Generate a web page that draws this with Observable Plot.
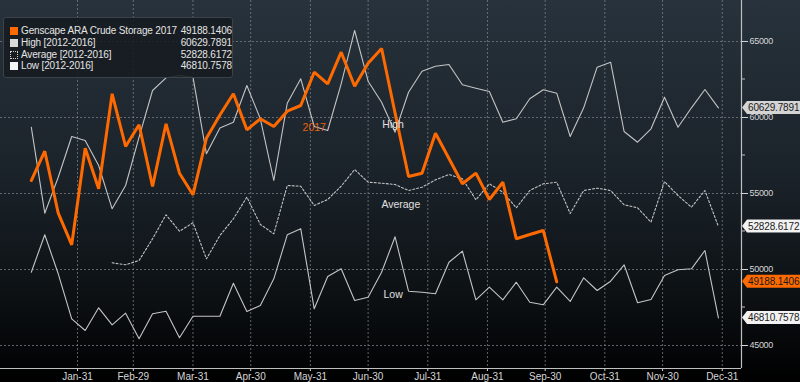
<!DOCTYPE html>
<html>
<head>
<meta charset="utf-8">
<script src="https://cdn.jsdelivr.net/npm/d3@7"></script>
<script src="https://cdn.jsdelivr.net/npm/@observablehq/plot@0.6"></script>
<style>
  html, body { margin: 0; padding: 0; background: #000; }
  #wrap {
    position: relative; width: 800px; height: 382px; overflow: hidden;
    background: linear-gradient(to bottom, #27323c 0%, #1b232a 45%, #0b0f12 80%, #000 100%);
    font-family: "Liberation Sans", Arial, sans-serif;
  }
  #wrap svg { position: absolute; left: 0; top: 0; background: transparent; }
  #legend {
    position: absolute; left: 3px; top: 17px; width: 230px; height: 61px;
    background: rgba(22, 27, 32, 0.88); border: 1px solid #3b4248; border-radius: 3px;
    color: #e4e4e4; font-size: 10px; letter-spacing: -0.15px; box-sizing: border-box;
  }
  #legend .row { position: absolute; left: 6px; right: 0; height: 12px; line-height: 12px; }
  #legend .sw { position: absolute; left: 0; top: 2px; width: 8px; height: 8px; box-sizing: border-box; }
  #legend .name { position: absolute; left: 11px; white-space: nowrap; }
  #legend .val { position: absolute; right: 0; white-space: nowrap; text-align: right; }
  .yax text { font-size: 9px; letter-spacing: -0.3px; }
</style>
</head>
<body>
<div id="wrap"><div id="chart"></div><div id="legend"></div></div>
<script>
// ---- data ----
const startWeek = "2016-01-07";
const seriesNames = ["Genscape ARA Crude Storage 2017", "High [2012-2016]", "Average [2012-2016]", "Low [2012-2016]"];
const lastValues = [49188.1406, 60629.7891, 52828.6172, 46810.7578];

const storage2017 = [55855, 57783, 53704, 51625, 57980, 55309, 61559, 58092, 59520, 55461,
  59586, 56336, 54914, 58638, 60164, 61559, 59191, 59914, 59408, 60414,
  60789, 62980, 62217, 64296, 62059, 63572, 64540, 60300, 56118, 56336,
  58967, 57303, 55638, 56336, 54605, 55743, 52020, 52303, 52566, 49188.1406];

const high = [59362, 53704, 56072, 58750, 58487, 56842, 53993, 55526, 58704, 61776,
  62612, 62763, 62651, 57612, 59309, 59691, 62105, 59914, 55855, 60941,
  62546, 59408, 59145, 62217, 65724, 62388, 61007, 59033, 61664, 63046,
  63375, 63487, 62151, 61928, 61711, 59691, 59914, 61230, 61822, 61599,
  58750, 60638, 63309, 63638, 59079, 58375, 59257, 61336, 59362, 60638,
  61842, 60629.7891];

const average = [null, null, null, null, null, null, 50441, 50309, 50592, 52020,
  53599, 52520, 53072, 50704, 52237, 53336, 54757, 52961, 52349, 55526,
  55480, 54211, 54605, 55480, 56579, 55743, 55678, 55592, 55197, 55414,
  55901, 56250, 55967, 54586, 55638, 55086, 54059, 55197, 55638, 55743,
  53684, 55197, 55349, 55197, 54257, 54059, 53112, 55789, 54868, 54099,
  55197, 52828.6172];

const low = [49822, 52283, 49717, 46757, 45987, 47480, 46362, 47125, 45441, 47086,
  47257, 45507, 46928, 46928, 46928, 49099, 47237, 47632, 49388, 52283,
  52678, 47414, 49539, 50046, 47961, 48178, 49822, 52151, 48572, 48507,
  48401, 50480, 51204, 48007, 48836, 48007, 49164, 47849, 47678, 48836,
  47895, 49454, 48618, 49230, 50309, 47809, 48026, 49605, 49980, 50046,
  51250, 46810.7578];

const xTickDates = ["2016-01-31", "2016-02-29", "2016-03-31", "2016-04-30", "2016-05-31", "2016-06-30",
  "2016-07-31", "2016-08-31", "2016-09-30", "2016-10-31", "2016-11-30", "2016-12-31"];
const xTickLabels = ["Jan-31", "Feb-29", "Mar-31", "Apr-30", "May-31", "Jun-30",
  "Jul-31", "Aug-31", "Sep-30", "Oct-31", "Nov-30", "Dec-31"];
const yTicks = [45000, 50000, 55000, 60000, 65000];
const yMinorTicks = [47500, 52500, 57500, 62500];

const labelTexts = ["2017", "High", "Average", "Low"];
const labelDates = ["2016-06-02", "2016-07-13", "2016-07-17", "2016-07-13"];
const labelValues = [59342, 59540, 54276, 48355];

// ---- build ----
const parse = d3.utcParse("%Y-%m-%d");
const t0 = parse(startWeek);
const dateAt = i => d3.utcDay.offset(t0, 7 * i);
const toRows = arr => arr.map((v, i) => ({date: dateAt(i), v})).filter(d => d.v != null);

const orangeC = "#ff6a00";
const grayC = "#c4c4c4";
const gridC = "#7d8288";
const textC = "#d6d6d6";
const xDomain = [new Date(Date.UTC(2015, 11, 22)), new Date(Date.UTC(2017, 0, 10))];
const yDomain = [43487, 67697];
const xTicks = xTickDates.map(parse);
const tickLabelMap = new Map(xTicks.map((d, i) => [+d, xTickLabels[i]]));
const font = `"Liberation Sans", Arial, sans-serif`;

const plot = Plot.plot({
  width: 800,
  height: 382,
  marginLeft: 0,
  marginRight: 59,
  marginTop: 0,
  marginBottom: 14,
  style: {background: "transparent", color: textC, fontFamily: font, fontSize: "10px", overflow: "visible"},
  x: {type: "utc", domain: xDomain, ticks: xTicks, tickSize: 3, tickPadding: 1,
      tickFormat: d => tickLabelMap.get(+d) ?? "", label: null},
  y: {domain: yDomain, axis: "right", ticks: yTicks, tickSize: 6, tickPadding: 2,
      tickFormat: d => String(d), label: null, ariaLabel: "y-axis"},
  marks: [
    Plot.ruleY(yTicks, {stroke: gridC, strokeDasharray: "2,2", strokeOpacity: 0.75}),
    Plot.ruleX(xTicks, {stroke: gridC, strokeDasharray: "2,2", strokeOpacity: 0.75}),
    Plot.ruleX([xDomain[1]], {stroke: "#bfbfbf", strokeWidth: 1.2}),
    Plot.ruleY([yDomain[0]], {stroke: "#bfbfbf", strokeWidth: 1.2}),
    Plot.line(toRows(high), {x: "date", y: "v", stroke: grayC, strokeWidth: 1.1}),
    Plot.line(toRows(average), {x: "date", y: "v", stroke: grayC, strokeWidth: 1.1, strokeDasharray: "2,2"}),
    Plot.line(toRows(low), {x: "date", y: "v", stroke: grayC, strokeWidth: 1.1}),
    Plot.line(toRows(storage2017), {x: "date", y: "v", stroke: orangeC, strokeWidth: 3, strokeLinejoin: "miter"}),
    Plot.text(labelTexts.map((t, i) => ({t, date: parse(labelDates[i]), v: labelValues[i]})),
      {x: "date", y: "v", text: "t", fontSize: 10.5, fontFamily: font,
       fill: (d) => d.t === "2017" ? "#e8620c" : "#e0e0e0"})
  ]
});
document.getElementById("chart").appendChild(plot);

const svg = d3.select(plot);
// shrink the right-axis labels a little (Bloomberg's digits are narrow)
svg.selectAll("g[aria-label='y-axis'] text, g[aria-label='y-axis tick label'] text")
  .attr("font-size", "9px").attr("letter-spacing", "-0.3px");

// minor ticks + value tags on the right axis, positioned through Plot's scales
const ys = plot.scale("y");
const xs = plot.scale("x");
const xr = xs.apply(xDomain[1]);
svg.append("g").selectAll("line").data(yMinorTicks).join("line")
  .attr("x1", xr).attr("x2", xr + 4)
  .attr("y1", d => ys.apply(d)).attr("y2", d => ys.apply(d))
  .attr("stroke", "#bfbfbf");

const tags = [
  {v: lastValues[1], bg: "#d4d4d4", fg: "#1a1a1a"},
  {v: lastValues[2], bg: "#f2f2f2", fg: "#1a1a1a"},
  {v: lastValues[0], bg: orangeC, fg: "#1a1a1a"},
  {v: lastValues[3], bg: "#f2f2f2", fg: "#1a1a1a"}
];
const tg = svg.append("g").attr("text-anchor", "start");
tags.forEach(t => {
  const y = ys.apply(t.v);
  tg.append("path")
    .attr("d", `M${xr + 1},${y} L${xr + 6},${y - 6.5} L800,${y - 6.5} L800,${y + 6.5} L${xr + 6},${y + 6.5} Z`)
    .attr("fill", t.bg);
  tg.append("text").attr("x", xr + 7).attr("y", y + 3.6)
    .attr("text-anchor", "start")
    .attr("fill", t.fg).attr("font-size", "10px").attr("letter-spacing", "-0.15px").attr("font-family", font)
    .text(t.v.toFixed(4));
});

// legend
const swatches = [
  `background:${orangeC}`,
  `background:#d9d9d9`,
  `border:1px dotted #d0d0d0`,
  `background:#f4f4f4`
];
document.getElementById("legend").innerHTML = seriesNames.map((n, i) =>
  `<div class="row" style="top:${7 + i * 11.8}px"><div class="sw" style="${swatches[i]}"></div><div class="name">${n}</div><div class="val">${lastValues[i].toFixed(4)}</div></div>`
).join("");
</script>
</body>
</html>
